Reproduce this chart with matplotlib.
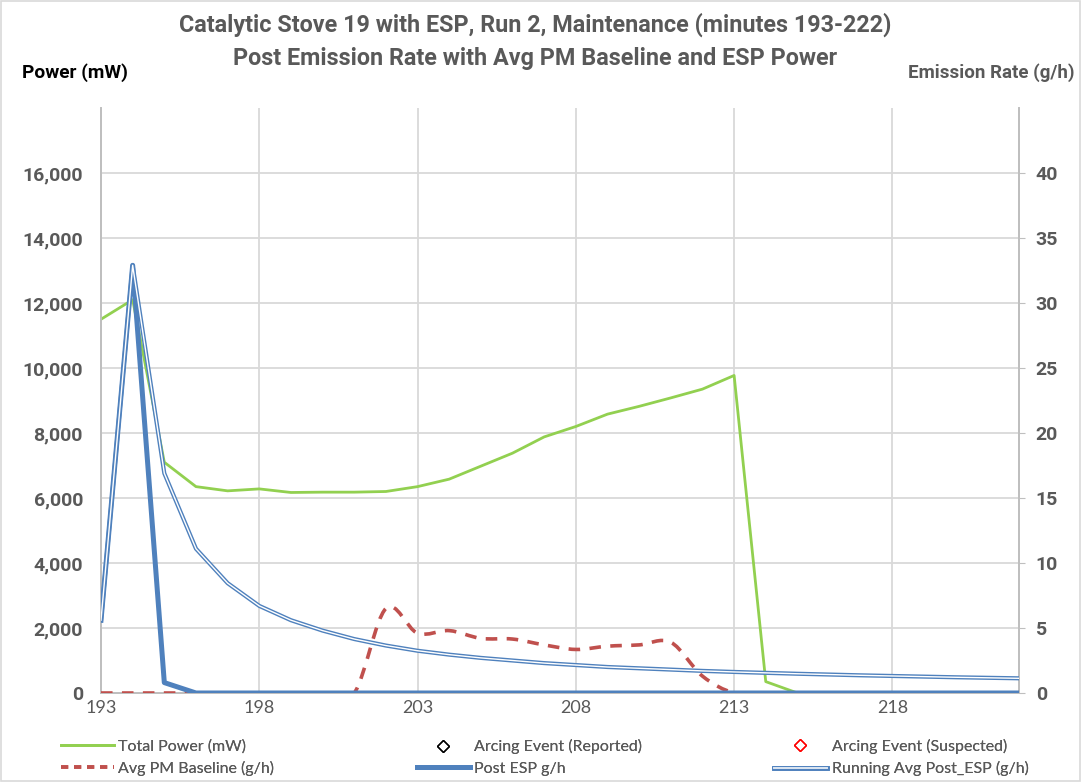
import matplotlib
matplotlib.use("Agg")
import matplotlib.pyplot as plt
from matplotlib.path import Path
from matplotlib.patches import PathPatch, Rectangle
from matplotlib.lines import Line2D
from matplotlib.legend_handler import HandlerTuple
from matplotlib.ticker import FuncFormatter
import numpy as np

plt.rcParams['font.family'] = ['Lato', 'DejaVu Sans']
BOLD_FAM = ['Roboto', 'DejaVu Sans']

minutes = list(range(193, 223))
total_power = [11500, 12100, 7100, 6350, 6220, 6280, 6170, 6180, 6180, 6200,
               6350, 6580, 6980, 7380, 7880, 8200, 8580, 8820, 9080, 9350,
               9770, 350, 0, 0, 0, 0, 0, 0, 0, 0]
avg_pm_baseline = [0, 0, 0, 0, 0, 0, 0, 0, 0, 6.5,
                   4.6, 4.8, 4.2, 4.15, 3.7, 3.35, 3.6, 3.7, 3.9, 1.3,
                   0, 0, 0, 0, 0, 0, 0, 0, 0, 0]
post_esp = [5.6, 32.9, 0.8, 0, 0, 0, 0, 0, 0, 0,
            0, 0, 0, 0, 0, 0, 0, 0, 0, 0,
            0, 0, 0, 0, 0, 0, 0, 0, 0, 0]
running_avg = [5.6, 32.9, 16.9, 11.1, 8.45, 6.7, 5.6, 4.8, 4.15, 3.65,
               3.25, 2.95, 2.7, 2.5, 2.3, 2.15, 2.0, 1.9, 1.8, 1.7,
               1.62, 1.55, 1.48, 1.42, 1.36, 1.31, 1.26, 1.21, 1.17, 1.13]
arcing_reported_x, arcing_reported_y = [], []
arcing_suspected_x, arcing_suspected_y = [], []

title_line1 = "Catalytic Stove 19 with ESP, Run 2, Maintenance (minutes 193-222)"
title_line2 = "Post Emission Rate with Avg PM Baseline and ESP Power"
xticks = [193, 198, 203, 208, 213, 218]
left_ticks = list(range(0, 16001, 2000))
right_ticks = list(range(0, 41, 5))

GRAY = "#595959"
GRID = "#D9D9D9"
W, H = 1081, 782

fig = plt.figure(figsize=(W / 100, H / 100), dpi=100)
fig.patches.append(Rectangle((0.001, 0.001), 0.998, 0.998, transform=fig.transFigure,
                             fill=False, edgecolor="#D9D9D9", linewidth=1.2))
ax = fig.add_axes([101 / W, 1 - 693 / H, (1019 - 101) / W, (693 - 108) / H])
ax2 = ax.twinx()

ax.set_xlim(193, 222)
ax.set_ylim(0, 18000)
ax2.set_ylim(0, 45)

ax.set_xticks(xticks)
ax.set_yticks(left_ticks)
ax2.set_yticks(right_ticks)
ax.yaxis.set_major_formatter(FuncFormatter(lambda v, p: f"{int(v):,}"))
ax.grid(True, color=GRID, linewidth=1.3)
ax.set_axisbelow(True)

for a in (ax, ax2):
    for s in a.spines.values():
        s.set_color("#BFBFBF")
        s.set_linewidth(1.3)
    a.spines['top'].set_visible(False)

ax.tick_params(axis='y', length=0, labelsize=14, labelcolor=GRAY, pad=13)
ax.tick_params(axis='x', length=0, labelsize=13, labelcolor=GRAY, pad=5)
ax2.tick_params(axis='y', length=4, color="#BFBFBF", labelsize=14, labelcolor=GRAY, pad=8)
for lab in ax.get_yticklabels() + ax2.get_yticklabels():
    lab.set_fontweight('bold')
    lab.set_family(BOLD_FAM)

# Total power (left axis)
ax.plot(minutes, total_power, color="#92D050", linewidth=2, zorder=3)

# Avg PM baseline smoothed (right axis) via Bezier path
pts = np.column_stack([minutes, avg_pm_baseline]).astype(float)
verts = [tuple(pts[0])]
codes = [Path.MOVETO]
n = len(pts)
for i in range(n - 1):
    p0 = pts[i - 1] if i > 0 else pts[i]
    p1 = pts[i]
    p2 = pts[i + 1]
    p3 = pts[i + 2] if i + 2 < n else pts[i + 1]
    c1 = p1 + (p2 - p0) / 6.0
    c2 = p2 - (p3 - p1) / 6.0
    verts += [tuple(c1), tuple(c2), tuple(p2)]
    codes += [Path.CURVE4] * 3
patch = PathPatch(Path(verts, codes), fill=False, edgecolor="#C0504D", linewidth=2.6,
                  linestyle=(0, (3.2, 2.6)), transform=ax2.transData, zorder=3)
ax2.add_patch(patch)

# Post ESP
ax2.plot(minutes, post_esp, color="#4F81BD", linewidth=3.6, zorder=4)
# Running average (double line)
ax2.plot(minutes, running_avg, color="#4F81BD", linewidth=3.0, zorder=5)
ax2.plot(minutes, running_avg, color="white", linewidth=1.0, zorder=6)
# Arcing events (no points)
ax2.plot(arcing_reported_x, arcing_reported_y, linestyle='none', marker='D',
         markerfacecolor='none', markeredgecolor='black')
ax2.plot(arcing_suspected_x, arcing_suspected_y, linestyle='none', marker='D',
         markerfacecolor='none', markeredgecolor='red')

fig.text(535 / W, 1 - 25 / H, title_line1, ha='center', va='center', fontsize=16.8,
         fontweight='bold', color=GRAY, family=BOLD_FAM)
fig.text(535 / W, 1 - 58 / H, title_line2, ha='center', va='center', fontsize=16.8,
         fontweight='bold', color=GRAY, family=BOLD_FAM)
fig.text(22 / W, 1 - 73 / H, "Power (mW)", ha='left', va='center', fontsize=13.8,
         fontweight='bold', color='black', family=BOLD_FAM)
fig.text(1075 / W, 1 - 73 / H, "Emission Rate (g/h)", ha='right', va='center', fontsize=13.5,
         fontweight='bold', color=GRAY, family=BOLD_FAM)

h_total = Line2D([], [], color="#92D050", linewidth=2)
h_base = Line2D([], [], color="#C0504D", linewidth=2.6, linestyle=(0, (2.0, 1.6)))
h_rep = Line2D([], [], linestyle='none', marker='D', markersize=6, markerfacecolor='none',
               markeredgecolor='black')
h_post = Line2D([], [], color="#4F81BD", linewidth=3.6)
h_sus = Line2D([], [], linestyle='none', marker='D', markersize=6, markerfacecolor='none',
               markeredgecolor='red')
h_run = (Line2D([], [], color="#4F81BD", linewidth=3.4),
         Line2D([], [], color="#DCE6F2", linewidth=1.4))

columns = [
    (61, [h_total, h_base], ["Total Power (mW)", "Avg PM Baseline (g/h)"]),
    (417, [h_rep, h_post], ["Arcing Event (Reported)", "Post ESP g/h"]),
    (774, [h_sus, h_run], ["Arcing Event (Suspected)", "Running Avg Post_ESP (g/h)"]),
]
for x0, hs, ls in columns:
    lg = fig.legend(hs, ls, loc='center left', bbox_to_anchor=(x0 / W, 1 - 757.5 / H),
                    frameon=False, fontsize=11.5, labelcolor=GRAY, handlelength=3.3,
                    handletextpad=0.3, labelspacing=0.45, borderpad=0, borderaxespad=0,
                    handler_map={tuple: HandlerTuple(ndivide=1, pad=0)})
    fig.add_artist(lg)

fig.savefig("out.png", dpi=100)
